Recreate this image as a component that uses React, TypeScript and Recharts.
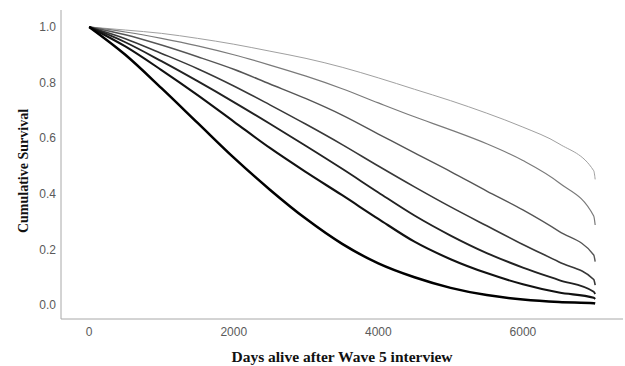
import { LineChart, Line, XAxis, YAxis, Label } from 'recharts';

const days = [0, 500, 1000, 1500, 2000, 2500, 3000, 3500, 4000, 4500, 5000, 5500, 6000, 6500, 6980, 7000];

// cumulative survival per group, lightest (best) to darkest (worst)
const survivalA = [1, 0.989, 0.977, 0.959, 0.938, 0.913, 0.887, 0.855, 0.817, 0.776, 0.735, 0.69, 0.64, 0.58, 0.483, 0.452];
const survivalB = [1, 0.982, 0.959, 0.932, 0.9, 0.863, 0.823, 0.778, 0.727, 0.677, 0.63, 0.58, 0.52, 0.44, 0.32, 0.288];
const survivalC = [1, 0.972, 0.935, 0.893, 0.848, 0.795, 0.742, 0.683, 0.615, 0.547, 0.48, 0.41, 0.342, 0.265, 0.18, 0.156];
const survivalD = [1, 0.958, 0.905, 0.85, 0.788, 0.72, 0.65, 0.577, 0.5, 0.425, 0.353, 0.285, 0.218, 0.155, 0.092, 0.072];
const survivalE = [1, 0.945, 0.877, 0.805, 0.73, 0.652, 0.572, 0.49, 0.405, 0.322, 0.25, 0.187, 0.135, 0.09, 0.048, 0.04];
const survivalF = [1, 0.93, 0.845, 0.755, 0.66, 0.565, 0.478, 0.395, 0.31, 0.228, 0.165, 0.115, 0.075, 0.045, 0.026, 0.022];
const survivalG = [1, 0.9, 0.78, 0.655, 0.53, 0.415, 0.31, 0.22, 0.15, 0.1, 0.062, 0.036, 0.02, 0.011, 0.007, 0.006];

const xTicks = [0, 2000, 4000, 6000];
const yTicks = [0, 0.2, 0.4, 0.6, 0.8, 1.0];

const groups = [
  { key: 'a', values: survivalA, color: '#a0a0a0', width: 1 },
  { key: 'b', values: survivalB, color: '#7a7a7a', width: 1.2 },
  { key: 'c', values: survivalC, color: '#555555', width: 1.4 },
  { key: 'd', values: survivalD, color: '#383838', width: 1.6 },
  { key: 'e', values: survivalE, color: '#222222', width: 1.9 },
  { key: 'f', values: survivalF, color: '#111111', width: 2.1 },
  { key: 'g', values: survivalG, color: '#000000', width: 2.5 },
];

const rows = days.map((day, i) => {
  const row: Record<string, number> = { day };
  groups.forEach((g) => {
    row[g.key] = g.values[i];
  });
  return row;
});

const titleFont = '"Liberation Serif", "Times New Roman", serif';
const tickFont = '"Liberation Sans", Arial, sans-serif';

function XTitle() {
  return (
    <text x={342} y={362} textAnchor="middle" fontFamily={titleFont} fontWeight="bold" fontSize={15.5} fill="#111">
      Days alive after Wave 5 interview
    </text>
  );
}

function YTitle() {
  return (
    <text
      x={23}
      y={171}
      transform="rotate(-90, 23, 171)"
      textAnchor="middle"
      dominantBaseline="central"
      fontFamily={titleFont}
      fontWeight="bold"
      fontSize={14}
      fill="#111"
    >
      Cumulative Survival
    </text>
  );
}

export default function App() {
  return (
    <div style={{ position: 'absolute', left: 0, top: 0, width: 625, height: 366, background: '#fff' }}>
      <LineChart width={625} height={366} data={rows} margin={{ top: 10, right: 2, left: 0, bottom: 0 }}>
        <XAxis
          dataKey="day"
          type="number"
          domain={[-390, 7385]}
          ticks={xTicks}
          allowDataOverflow
          height={47}
          tickLine={false}
          axisLine={{ stroke: '#a8a8a8' }}
          tick={{ fill: '#5a5a5a', fontSize: 12, fontFamily: tickFont }}
        >
          <Label content={<XTitle />} />
        </XAxis>
        <YAxis
          type="number"
          domain={[-0.05, 1.061]}
          ticks={yTicks}
          allowDataOverflow
          width={61}
          tickSize={3}
          tickLine={false}
          axisLine={{ stroke: '#a8a8a8' }}
          tickFormatter={(v: number) => v.toFixed(1)}
          tick={{ fill: '#5a5a5a', fontSize: 12, fontFamily: tickFont }}
        >
          <Label content={<YTitle />} />
        </YAxis>
        {groups.map((g) => (
          <Line
            key={g.key}
            dataKey={g.key}
            type="monotone"
            stroke={g.color}
            strokeWidth={g.width}
            dot={false}
            activeDot={false}
            isAnimationActive={false}
          />
        ))}
      </LineChart>
    </div>
  );
}
